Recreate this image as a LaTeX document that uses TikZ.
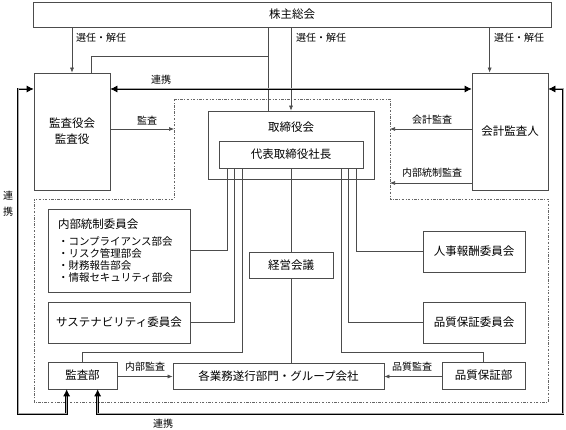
\documentclass[tikz,border=0pt]{standalone}
\usepackage{fontspec}
\setmainfont{Noto Sans CJK JP}
\usetikzlibrary{arrows.meta,calc}
\begin{document}
\begin{tikzpicture}[x=1pt,y=-1pt,
    box/.style={draw=black!70, line width=0.7pt, inner sep=0pt, align=center, font=\fontsize{11.5}{16}\selectfont},
    txt/.style={inner sep=0pt, font=\fontsize{11.5}{14}\selectfont},
    lbl/.style={inner sep=0pt, font=\fontsize{10}{12}\selectfont},
    wire/.style={draw=black!70, line width=0.6pt},
    arr/.style={wire, -{Latex[length=5pt,width=4pt]}},
    coop/.style={draw=black, line width=0.7pt, double=black!35, double distance=1pt,
                 {Latex[length=7pt,width=7pt]}-{Latex[length=7pt,width=7pt]}},
    area/.style={draw=black!60, line width=0.6pt, dash pattern=on 2.5pt off 1.5pt on 0.8pt off 1.5pt}]
    \useasboundingbox (0,0) rectangle (566,430);

    % area of the executive side
    \draw[area] (174,99) -- (390,99) -- (390,199) -- (548,199) -- (548,402)
        -- (34,402) -- (34,199) -- (174,199) -- cycle;
    \coordinate (innerL) at (174,99);
    \coordinate (innerR) at (390,99);

    % boxes
    \node[box, minimum width=518pt, minimum height=25pt] (kabu) at (292,14.5) {株主総会};
    \node[box, minimum width=76pt, minimum height=117pt] (kansa) at (72,131.5) {監査役会\\監査役};
    \node[box, minimum width=76pt, minimum height=117pt] (kaikei) at (510,131.5) {会計監査人};
    \node[box, minimum width=166pt, minimum height=68pt] (tori) at (291,145) {};
    \node[txt] (toritxt) at (291,127) {取締役会};
    \node[box, minimum width=144pt, minimum height=27pt] (daihyo) at (291,154.5) {代表取締役社長};
    \node[box, minimum width=142pt, minimum height=83pt, text width=122pt, align=left,
          font=\fontsize{10.5}{12}\selectfont] (naibu) at (119,250.5)
        {{\fontsize{11.5}{14}\selectfont 内部統制委員会}\\[5pt]
         ・コンプライアンス部会\\・リスク管理部会\\・財務報告部会\\・情報セキュリティ部会};
    \node[box, minimum width=142pt, minimum height=41pt] (sustain) at (119,322.5) {サステナビリティ委員会};
    \node[box, minimum width=84pt, minimum height=26pt] (keiei) at (291,265) {経営会議};
    \node[box, minimum width=102pt, minimum height=41pt] (jinji) at (474,251.5) {人事報酬委員会};
    \node[box, minimum width=102pt, minimum height=41pt] (hinkai) at (474,322.5) {品質保証委員会};
    \node[box, minimum width=69pt, minimum height=27pt] (kansabu) at (82.5,375.5) {監査部};
    \node[box, minimum width=211pt, minimum height=26pt] (gyomu) at (278.5,376) {各業務遂行部門・グループ会社};
    \node[box, minimum width=83pt, minimum height=27pt] (hinbu) at (483.5,375.5) {品質保証部};

    % shareholders
    \coordinate (kk) at ($(kaikei.north west)+(18,0)$);
    \draw[arr] (kabu.south -| kansa.north) -- (kansa.north);
    \draw[arr] (kabu.south -| kk) -- (kk);
    \draw[arr] (kabu.south -| tori.north) -- (tori.north);
    \coordinate (t1) at ($(tori.north)+(-23,0)$);
    \coordinate (br) at (0,56);
    \draw[wire] (kabu.south -| t1) -- (t1);
    \draw[wire] (t1 |- br) -| ($(kansa.north)+(19,0)$);
    \node[lbl, anchor=west] (sel1) at (76,38) {選任・解任};
    \node[lbl, anchor=west] (sel2) at (296,38) {選任・解任};
    \node[lbl, anchor=west] (sel3) at (494,38) {選任・解任};

    % audits
    \draw[arr] ($(kansa.east)+(0,-2.5)$) coordinate (a1) -- (a1 -| innerL);
    \node[lbl] (kansalbl) at (147,121) {監査};
    \draw[arr] ($(kaikei.west)+(0,-2.5)$) coordinate (a2) -- (a2 -| innerR);
    \node[lbl] (kaikeilbl) at (432,120) {会計監査};
    \draw[arr] ($(kaikei.west)+(0,51.5)$) coordinate (a3) -- (a3 -| innerR);
    \node[lbl] (naibulbl) at (432,173) {内部統制監査};
    \draw[arr] ($(kansabu.east)+(0,1)$) coordinate (a4) -- (a4 -| gyomu.west);
    \node[lbl] (nkansalbl) at (145,367) {内部監査};
    \draw[arr] ($(hinbu.west)+(0,1)$) coordinate (a5) -- (a5 -| gyomu.east);
    \node[lbl] (hinlbl) at (412,367) {品質監査};

    % president to committees
    \draw[wire] ($(daihyo.south)+(-64,0)$) |- (naibu.east);
    \draw[wire] ($(daihyo.south)+(-57,0)$) |- (sustain.east);
    \draw[wire] ($(daihyo.south)+(-49,0)$) |- ($(kansabu.north)+(0,-9)$) -- (kansabu.north);
    \draw[wire] (daihyo.south) -- (keiei.north);
    \draw[wire] (keiei.south) -- (keiei.south |- gyomu.north);
    \draw[wire] ($(daihyo.south)+(50,0)$) |- ($(hinbu.north)+(0,-9)$) -- (hinbu.north);
    \draw[wire] ($(daihyo.south)+(57,0)$) |- (hinkai.west);
    \draw[wire] ($(daihyo.south)+(65,0)$) |- (jinji.west);

    % cooperation
    \coordinate (linky) at (0,89);
    \coordinate (bottomy) at (0,414);
    \coordinate (kbL) at ($(kansabu.south west)+(19,0)$);
    \coordinate (kbR) at ($(kansabu.south west)+(50,0)$);
    \coordinate (lc1) at (18,89);
    \coordinate (rc1) at (563,89);
    \draw[coop] (kansa.east |- linky) -- (kaikei.west |- linky);
    \node[lbl] (renkei1) at (161,80) {連携};
    \draw[coop] (kansa.west |- linky) -- (lc1) -- (lc1 |- bottomy) -- (kbL |- bottomy) -- (kbL);
    \node[lbl, align=center, font=\fontsize{10}{16}\selectfont] (renkei2) at (8,204) {連\\携};
    \draw[coop] (kbR) -- (kbR |- bottomy) -- (rc1 |- bottomy) -- (rc1) -- (kaikei.east |- linky);
    \node[lbl] (renkei3) at (163,424) {連携};
\end{tikzpicture}
\end{document}
